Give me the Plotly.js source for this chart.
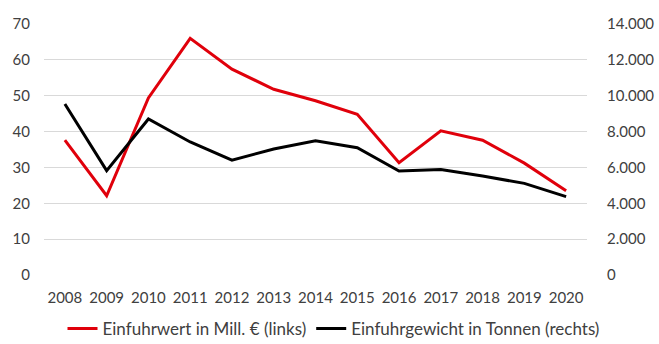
<!DOCTYPE html>
<html>
<head>
<meta charset="utf-8">
<script src="https://cdn.plot.ly/plotly-3.0.1.min.js"></script>
<style>html,body{margin:0;padding:0;background:#fff;}#chart{width:659px;height:344px;}</style>
</head>
<body>
<div id="chart"></div>
<script>
const years = ['2008','2009','2010','2011','2012','2013','2014','2015','2016','2017','2018','2019','2020'];
const einfuhrwert = [37.6, 22.1, 49.4, 66.0, 57.4, 51.8, 48.6, 44.8, 31.3, 40.2, 37.6, 31.2, 23.5];
const einfuhrgewicht = [9540, 5820, 8700, 7420, 6410, 7030, 7490, 7100, 5800, 5890, 5520, 5110, 4370];
const leftTicks = [0, 10, 20, 30, 40, 50, 60, 70];
const rightTicks = [0, 2000, 4000, 6000, 8000, 10000, 12000, 14000];
const rightTickText = ['0', '2.000', '4.000', '6.000', '8.000', '10.000', '12.000', '14.000'];
const nameRed = 'Einfuhrwert in Mill. € (links)';
const nameBlack = 'Einfuhrgewicht in Tonnen (rechts)';

const font = {family: 'Lato, "Open Sans", sans-serif', size: 15, color: '#404040'};
const legendFont = {family: 'Lato, "Open Sans", sans-serif', size: 17, color: '#404040'};

const traces = [
  {x: years, y: einfuhrwert, name: nameRed, type: 'scatter', mode: 'lines',
   line: {color: '#e0000b', width: 3}, yaxis: 'y'},
  {x: years, y: einfuhrgewicht, name: nameBlack, type: 'scatter', mode: 'lines',
   line: {color: '#000000', width: 3}, yaxis: 'y2'}
];

const layout = {
  width: 659, height: 344,
  margin: {l: 44, r: 72, t: 24, b: 69},
  paper_bgcolor: '#fff', plot_bgcolor: '#fff',
  font: font,
  showlegend: true,
  legend: {orientation: 'h', xref: 'container', yref: 'container',
           x: 0.5 + 4/659, xanchor: 'center', y: 15/344, yanchor: 'middle',
           font: legendFont, itemwidth: 30, tracegroupgap: 0, bgcolor: 'rgba(0,0,0,0)'},
  xaxis: {type: 'category', range: [-0.5, 12.5], showgrid: false, zeroline: false,
          showline: false, ticks: 'outside', ticklen: 9, tickcolor: 'rgba(0,0,0,0)',
          tickfont: font, fixedrange: true},
  yaxis: {range: [0, 70], tickvals: leftTicks, showgrid: true, gridcolor: '#d9d9d9',
          gridwidth: 1, zeroline: false, showline: false, ticks: 'outside', ticklen: 10,
          tickcolor: 'rgba(0,0,0,0)', tickfont: font},
  yaxis2: {range: [0, 14000], tickvals: rightTicks, ticktext: rightTickText,
           overlaying: 'y', side: 'right', showgrid: false, zeroline: false, showline: false,
           ticks: 'outside', ticklen: 16, tickcolor: 'rgba(0,0,0,0)', tickfont: font}
};

Plotly.newPlot('chart', traces, layout, {staticPlot: true, displayModeBar: false});
</script>
</body>
</html>
